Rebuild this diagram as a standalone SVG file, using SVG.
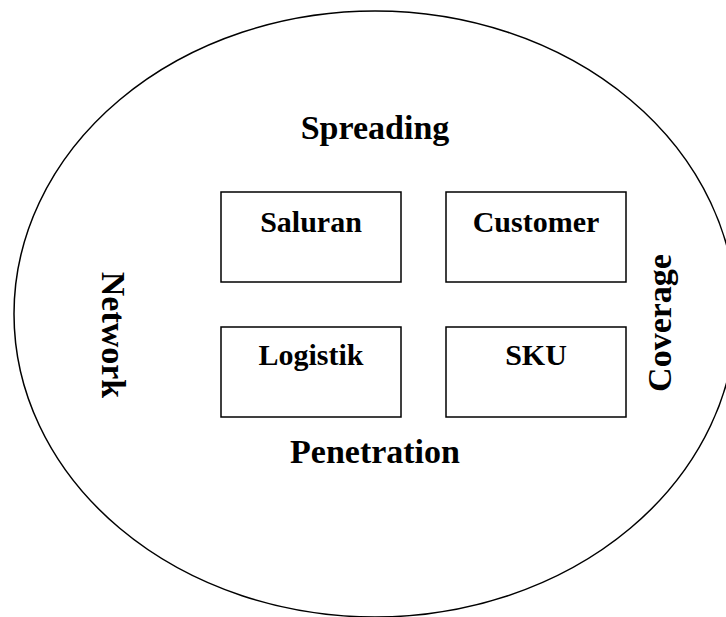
<svg xmlns="http://www.w3.org/2000/svg" width="726" height="617" viewBox="0 0 726 617">
<style>
.lbl{font-family:"Liberation Serif","Times New Roman",serif;font-weight:bold;fill:#000;text-anchor:middle}
.box{fill:#fff;stroke:#000;stroke-width:1.5}
.big{font-size:34px}
.small{font-size:30px}
</style>
<rect width="726" height="617" fill="#fff"/>
<g id="outer">
<ellipse cx="375" cy="314" rx="361" ry="303" fill="none" stroke="#000" stroke-width="1.5"/>
</g>
<g id="spreading"><text class="lbl big" x="375" y="139">Spreading</text></g>
<g id="penetration"><text class="lbl big" x="375" y="463">Penetration</text></g>
<g id="network"><text class="lbl big" transform="translate(102,335) rotate(90)" x="0" y="0">Network</text></g>
<g id="coverage"><text class="lbl big" transform="translate(671,323) rotate(-90)" x="0" y="0">Coverage</text></g>
<g id="saluran">
<rect class="box" x="221" y="192" width="180" height="90"/>
<text class="lbl small" x="311" y="232">Saluran</text>
</g>
<g id="customer">
<rect class="box" x="446" y="192" width="180" height="90"/>
<text class="lbl small" x="536" y="232">Customer</text>
</g>
<g id="logistik">
<rect class="box" x="221" y="327" width="180" height="90"/>
<text class="lbl small" x="311" y="365">Logistik</text>
</g>
<g id="sku">
<rect class="box" x="446" y="327" width="180" height="90"/>
<text class="lbl small" x="536" y="365">SKU</text>
</g>
<g id="connectors"></g>
</svg>
